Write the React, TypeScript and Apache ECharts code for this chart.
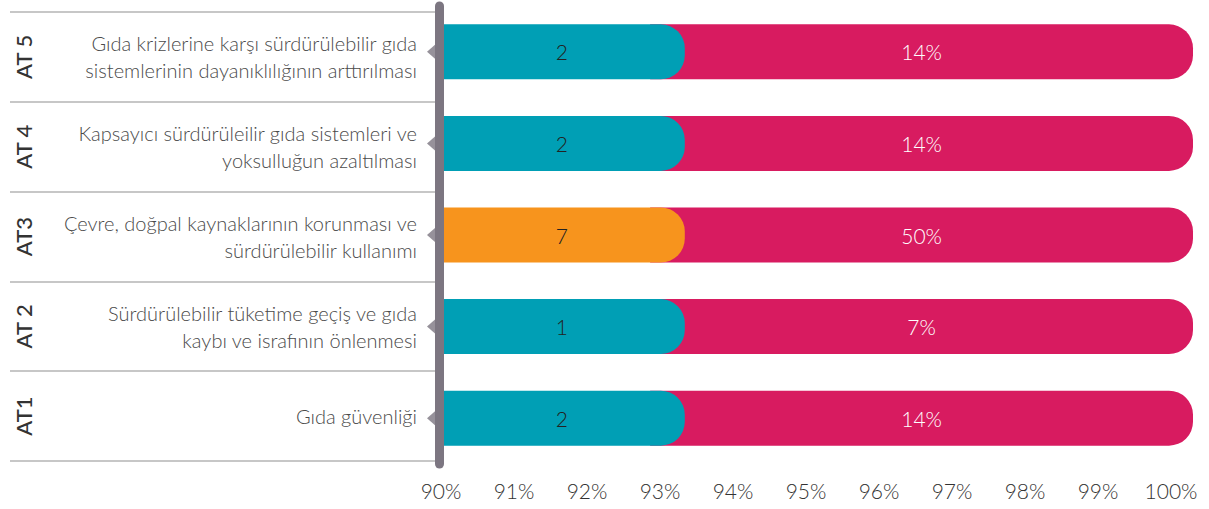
import React, { useEffect, useRef } from "react";
import * as echarts from "echarts";

const codes = ["AT1", "AT 2", "AT3", "AT 4", "AT 5"];
const topics = [
  "Gıda güvenliği",
  "Sürdürülebilir tüketime geçiş ve gıda\nkaybı ve israfının önlenmesi",
  "Çevre, doğpal kaynaklarının korunması ve\nsürdürülebilir kullanımı",
  "Kapsayıcı sürdürüleilir gıda sistemleri ve\nyoksulluğun azaltılması",
  "Gıda krizlerine karşı sürdürülebilir gıda\nsistemlerinin dayanıklılığının arttırılması",
];
const counts = [2, 1, 7, 2, 2];
const pctLabels = ["14%", "7%", "50%", "14%", "14%"];
const capEnd = [93.26, 93.26, 93.26, 93.26, 93.26];
const pinkStart = [92.8, 92.8, 92.8, 92.8, 92.8];
const pinkEnd = [100, 100, 100, 100, 100];
const tickMin = 90;
const tickMax = 100;

const TEAL = "#009FB5";
const ORANGE = "#F7941D";
const PINK = "#D81B60";
const GRAY = "#7C7681";
const FONT = "Lato, 'Open Sans', sans-serif";

export default function App() {
  const ref = useRef<HTMLDivElement>(null);
  useEffect(() => {
    const chart = echarts.init(ref.current!, null, { renderer: "svg" });
    chart.setOption({
      animation: false,
      grid: [
        { left: 439, right: 16, top: 6, height: 458 },
        { left: 441, width: 730, top: 6, height: 458 },
        { left: 10, width: 425, top: 12, height: 449 },
      ],
      xAxis: [
        { type: "value", gridIndex: 0, min: tickMin, max: tickMax, show: false },
        {
          type: "value",
          gridIndex: 1,
          min: tickMin,
          max: tickMax,
          interval: 1,
          axisLine: { show: false },
          axisTick: { show: false },
          splitLine: { show: false },
          axisLabel: {
            formatter: (v: number) => v + "%",
            color: "#333",
            fontFamily: FONT,
            fontSize: 21,
            fontWeight: 300,
            margin: 16,
          },
        },
        { type: "value", gridIndex: 2, show: false },
      ],
      yAxis: [
        {
          type: "category",
          gridIndex: 0,
          data: codes,
          axisLine: { show: true, lineStyle: { color: GRAY, width: 9, cap: "round" } },
          axisTick: { show: false },
          axisLabel: { show: false },
          z: 5,
        },
        { type: "category", gridIndex: 1, data: codes, show: false },
        {
          type: "category",
          gridIndex: 2,
          data: codes,
          position: "left",
          axisLine: { show: false },
          axisTick: { show: false },
          splitLine: { show: true, lineStyle: { color: "#b5b5b5", width: 1.5 } },
          axisLabel: {
            rotate: 90,
            align: "center",
            verticalAlign: "middle",
            margin: -13,
            color: "#333",
            fontFamily: FONT,
            fontSize: 22,
            fontWeight: 500,
          },
        },
        {
          type: "category",
          gridIndex: 2,
          data: topics,
          position: "right",
          axisLine: { show: false },
          axisTick: { show: false },
          axisLabel: {
            inside: true,
            align: "right",
            margin: 18,
            color: "#4a4a4a",
            fontFamily: FONT,
            fontSize: 20,
            fontWeight: 300,
            lineHeight: 27,
          },
        },
      ],
      series: [
        {
          type: "bar",
          xAxisIndex: 0,
          yAxisIndex: 0,
          stack: "pk",
          barWidth: 55,
          barGap: "-100%",
          silent: true,
          itemStyle: { color: "transparent" },
          data: pinkStart,
        },
        {
          type: "bar",
          xAxisIndex: 0,
          yAxisIndex: 0,
          stack: "pk",
          barWidth: 55,
          barGap: "-100%",
          itemStyle: { color: PINK, borderRadius: [0, 24, 24, 0] },
          label: {
            show: true,
            position: "inside",
            color: "#fff",
            fontFamily: FONT,
            fontSize: 21,
            fontWeight: 300,
            formatter: (p: any) => pctLabels[p.dataIndex],
          },
          data: pinkEnd.map((e, i) => e - pinkStart[i]),
        },
        {
          type: "bar",
          xAxisIndex: 0,
          yAxisIndex: 0,
          barWidth: 55,
          barGap: "-100%",
          label: {
            show: true,
            position: "inside",
            color: "#222",
            fontFamily: FONT,
            fontSize: 21,
            fontWeight: 300,
            formatter: (p: any) => String(counts[p.dataIndex]),
          },
          data: capEnd.map((v, i) => ({
            value: v,
            itemStyle: { color: i === 2 ? ORANGE : TEAL, borderRadius: [0, 24, 24, 0] },
          })),
        },
        {
          type: "scatter",
          xAxisIndex: 0,
          yAxisIndex: 0,
          clip: false,
          silent: true,
          symbol: "triangle",
          symbolSize: [14, 8],
          symbolRotate: 90,
          symbolOffset: [-8, 0],
          itemStyle: { color: GRAY },
          z: 6,
          data: codes.map((c) => [tickMin, c]),
        },
      ],
    });
    return () => chart.dispose();
  }, []);
  return <div ref={ref} style={{ width: 1209, height: 509, position: "absolute", left: 0, top: 0 }} />;
}
